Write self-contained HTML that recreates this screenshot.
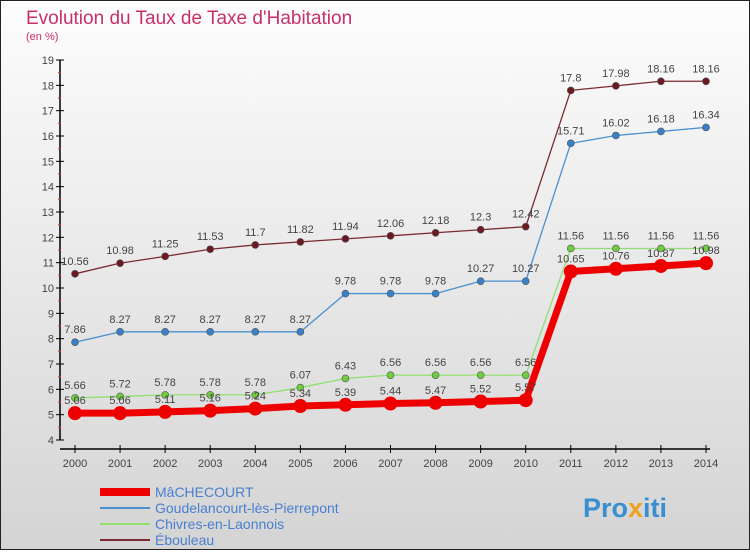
<!DOCTYPE html>
<html><head><meta charset="utf-8"><style>
html,body{margin:0;padding:0}
body{width:750px;height:550px;overflow:hidden;font-family:"Liberation Sans","DejaVu Sans",sans-serif}
</style></head><body>
<svg width="750" height="550" xmlns="http://www.w3.org/2000/svg">
<defs><linearGradient id="bg" x1="0" y1="0" x2="0" y2="1"><stop offset="0" stop-color="#fdfdfd"/><stop offset="1" stop-color="#d4d4d4"/></linearGradient></defs>
<rect x="0.5" y="0.5" width="749" height="549" fill="url(#bg)" stroke="#222"/>
<text x="26" y="24" font-size="19" fill="#c8306a">Evolution du Taux de Taxe d'Habitation</text>
<text x="26" y="40" font-size="11" fill="#c8306a">(en %)</text>
<g id="axes"></g><g id="series"></g><g id="legend"></g>
<text x="583" y="517" font-size="27" font-weight="bold" fill="#3a8fd0">Pro<tspan fill="#f0a020">x</tspan>iti</text>
</svg>
<script>
const years=[2000,2001,2002,2003,2004,2005,2006,2007,2008,2009,2010,2011,2012,2013,2014];
const yTicks=[4,5,6,7,8,9,10,11,12,13,14,15,16,17,18,19];
const macheVals=[5.06,5.06,5.11,5.16,5.24,5.34,5.39,5.44,5.47,5.52,5.57,10.65,10.76,10.87,10.98];
const goudVals=[7.86,8.27,8.27,8.27,8.27,8.27,9.78,9.78,9.78,10.27,10.27,15.71,16.02,16.18,16.34];
const chivVals=[5.66,5.72,5.78,5.78,5.78,6.07,6.43,6.56,6.56,6.56,6.56,11.56,11.56,11.56,11.56];
const ebouVals=[10.56,10.98,11.25,11.53,11.7,11.82,11.94,12.06,12.18,12.3,12.42,17.8,17.98,18.16,18.16];
const seriesNames=["MâCHECOURT","Goudelancourt-lès-Pierrepont","Chivres-en-Laonnois","Ébouleau"];
const NS="http://www.w3.org/2000/svg";
const x=i=>75+i*(706-75)/(years.length-1);
const y=v=>440-(v-4)*(380/15);
function mk(t,a,p){const e=document.createElementNS(NS,t);for(const k in a)e.setAttribute(k,a[k]);p.appendChild(e);return e;}
const ax=document.getElementById('axes');
const yl=mk('line',{x1:60,y1:60,x2:60,y2:440,stroke:'#000','stroke-width':1.5},ax);


const xl=mk('line',{x1:60,y1:449,x2:710,y2:449,stroke:'#000','stroke-width':1.5},ax);


yTicks.forEach(v=>{
 mk('line',{x1:56,y1:y(v),x2:64,y2:y(v),stroke:'#000'},ax);
 if(v<19)mk('line',{x1:58,y1:y(v+0.5),x2:61,y2:y(v+0.5),stroke:'#e03030'},ax);
 const t=mk('text',{x:54,y:y(v)+4,'font-size':11,fill:'#444','text-anchor':'end'},ax);t.textContent=v;
 
 
});
years.forEach((yr,i)=>{
 mk('line',{x1:x(i),y1:445,x2:x(i),y2:453,stroke:'#000'},ax);
 const t=mk('text',{x:x(i),y:467,'font-size':11,fill:'#444','text-anchor':'middle'},ax);t.textContent=yr;
 
 
});
const sg=document.getElementById('series');
function draw(vals,color,w,r,dot,name){
 const g=mk('g',{},sg);
 
 
 mk('polyline',{points:vals.map((v,i)=>x(i)+','+y(v)).join(' '),fill:'none',stroke:color,'stroke-width':w,'stroke-linejoin':'round'},g);
 vals.forEach((v,i)=>{
  const c=mk('circle',{cx:x(i),cy:y(v),r:r,fill:dot,stroke:'#555','stroke-width':r>5?0:0.6},g);
  
  
  const t=mk('text',{x:x(i),y:y(v)-9,'font-size':11,fill:'#444','text-anchor':'middle'},g);t.textContent=v;
  
  
 });
}
draw(ebouVals,'#7a2a30',1.3,3.5,'#6b1a22','series-ebouleau');
draw(goudVals,'#4a90d0',1.3,3.5,'#3a80c8','series-goudelancourt');
draw(chivVals,'#90e070',1.3,3.5,'#70cc40','series-chivres');
draw(macheVals,'#ee0000',7,7,'#ee0000','series-machecourt');
const lg=document.getElementById('legend');
const cols=['#ee0000','#4a90d0','#90e070','#7a2a30'];const ws=[8,2,2,2];
seriesNames.forEach((n,i)=>{
 const g=mk('g',{},lg);
 
 
 const yy=492+i*16;
 mk('line',{x1:100,y1:yy,x2:150,y2:yy,stroke:cols[i],'stroke-width':ws[i]},g);
 const t=mk('text',{x:155,y:yy+5,'font-size':14,fill:'#4a7fd0'},g);t.textContent=n;
});
</script>
</body></html>
